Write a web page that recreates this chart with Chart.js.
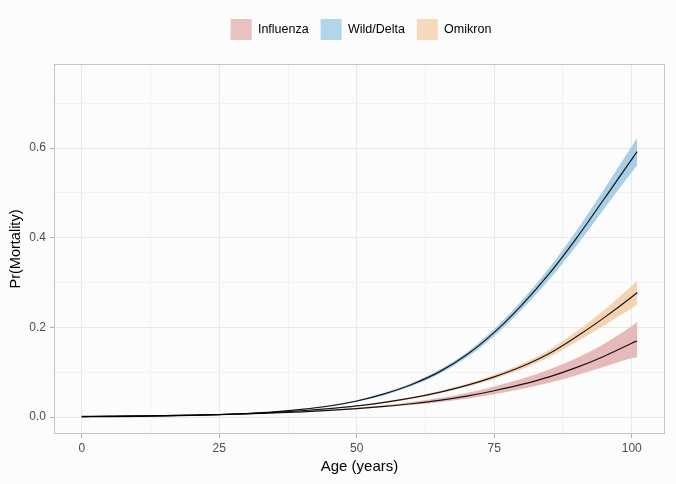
<!DOCTYPE html>
<html>
<head>
<meta charset="utf-8">
<script src="https://cdn.jsdelivr.net/npm/chart.js@4"></script>
<style>
    html, body { margin: 0; padding: 0; background: #fcfcfc; }
    #wrap { width: 676px; height: 484px; }
</style>
</head>
<body>
<div id="wrap"><canvas id="chart" width="676" height="484"></canvas></div>
<script>
    'use strict';

    // Age grid (years)
    var ages = [0, 5, 10, 15, 20, 25, 30, 35, 40, 45, 50, 55, 60, 65, 70, 75, 80, 85, 90, 95, 100, 101];

    // Influenza: estimate and band
    var inflMid = [0.0017, 0.0022, 0.0028, 0.0035, 0.0045, 0.0057, 0.0073, 0.0093, 0.0118, 0.015, 0.019, 0.024, 0.030, 0.0375, 0.047, 0.059, 0.073, 0.090, 0.111, 0.136, 0.165, 0.170];
    var inflLo  = [0.0016, 0.002, 0.0026, 0.0032, 0.0042, 0.0053, 0.0068, 0.0086, 0.0109, 0.0139, 0.0175, 0.0219, 0.027, 0.0334, 0.0413, 0.0512, 0.0628, 0.0765, 0.0935, 0.1125, 0.1315, 0.1335];
    var inflHi  = [0.0018, 0.0024, 0.003, 0.0038, 0.0048, 0.0061, 0.0079, 0.0101, 0.0128, 0.0163, 0.0208, 0.0265, 0.0336, 0.0425, 0.0538, 0.0685, 0.0855, 0.1065, 0.132, 0.164, 0.2035, 0.2125];

    // Wild/Delta
    var wildMid = [0.0008, 0.0012, 0.0018, 0.0026, 0.0038, 0.0056, 0.0082, 0.012, 0.0175, 0.025, 0.036, 0.052, 0.073, 0.101, 0.139, 0.189, 0.250, 0.320, 0.400, 0.487, 0.575, 0.592];
    var wildLo  = [0.0007, 0.0011, 0.0016, 0.0023, 0.0034, 0.0051, 0.0075, 0.0111, 0.0163, 0.0235, 0.0341, 0.0495, 0.0696, 0.0964, 0.133, 0.1812, 0.240, 0.307, 0.383, 0.465, 0.546, 0.561];
    var wildHi  = [0.0009, 0.0013, 0.002, 0.0029, 0.0042, 0.0061, 0.0089, 0.0129, 0.0187, 0.0265, 0.0379, 0.0545, 0.0764, 0.1056, 0.145, 0.1968, 0.260, 0.333, 0.417, 0.509, 0.604, 0.623];

    // Omikron
    var omiMid = [0.0014, 0.0019, 0.0025, 0.0034, 0.0045, 0.006, 0.008, 0.0107, 0.0143, 0.019, 0.025, 0.033, 0.043, 0.0555, 0.071, 0.090, 0.113, 0.142, 0.180, 0.222, 0.268, 0.278];
    var omiLo  = [0.0013, 0.0018, 0.0023, 0.0032, 0.0042, 0.0056, 0.0075, 0.0101, 0.0135, 0.018, 0.0237, 0.0313, 0.0408, 0.0527, 0.0674, 0.0853, 0.107, 0.1335, 0.168, 0.205, 0.243, 0.251];
    var omiHi  = [0.0015, 0.002, 0.0027, 0.0036, 0.0048, 0.0064, 0.0085, 0.0113, 0.0151, 0.02, 0.0263, 0.0347, 0.0452, 0.0583, 0.0746, 0.0947, 0.119, 0.1505, 0.192, 0.239, 0.293, 0.305];

    var seriesNames = ['Influenza', 'Wild/Delta', 'Omikron'];
    var bandColors = ['#e6bab8', '#a9cfe6', '#f5d3b2'];
    var keyColors = ['#e9c1c0', '#b3d5ea', '#f6d8bb'];

    var xTicks = [0, 12.5, 25, 37.5, 50, 62.5, 75, 87.5, 100];
    var yTicks = [0, 0.1, 0.2, 0.3, 0.4, 0.5, 0.6, 0.7];

    function pts(vals) {
        return ages.map(function (a, i) { return { x: a, y: vals[i] }; });
    }

    function lineSet(vals) {
        return {
            data: pts(vals),
            borderColor: 'rgba(0,0,0,0.9)',
            borderWidth: 1.2,
            pointRadius: 0,
            fill: false,
            cubicInterpolationMode: 'monotone'
        };
    }

    function bandSet(vals, color, fill) {
        return {
            data: pts(vals),
            borderWidth: 0,
            borderColor: 'transparent',
            backgroundColor: color,
            pointRadius: 0,
            fill: fill,
            cubicInterpolationMode: 'monotone'
        };
    }

    var isMajorX = function (v) { return v % 25 === 0; };
    var isMajorY = function (v) { return Math.round(v * 10) % 2 === 0; };

    // room under the legend, and legend centred over the panel like the original
    var legendSpace = {
        id: 'legendSpace',
        beforeLayout: function (chart) {
            var lg = chart.legend;
            if (lg && !lg._spaced) {
                var fit = lg.fit, draw = lg.draw;
                lg.fit = function () { fit.call(this); this.height = 57; };
                lg.draw = function () {
                    var c = this.ctx;
                    c.save();
                    c.translate(25, 0);
                    draw.call(this);
                    c.restore();
                };
                lg._spaced = true;
            }
        }
    };

    var panelBox = {
        id: 'panelBox',
        afterDatasetsDraw: function (chart) {
            var a = chart.chartArea, c = chart.ctx;
            c.save();
            c.strokeStyle = '#c4c4c4';
            c.lineWidth = 1;
            c.strokeRect(Math.round(a.left) + 0.5, Math.round(a.top) + 0.5,
                Math.round(a.right - a.left) - 1, Math.round(a.bottom - a.top) - 1);
            c.restore();
        }
    };

    new Chart(document.getElementById('chart'), { //eslint-disable-line
        type: 'line',
        data: {
            datasets: [
                lineSet(wildMid),
                lineSet(omiMid),
                lineSet(inflMid),
                bandSet(wildHi, bandColors[1], '+1'),
                bandSet(wildLo, bandColors[1], false),
                bandSet(omiHi, bandColors[2], '+1'),
                bandSet(omiLo, bandColors[2], false),
                bandSet(inflHi, bandColors[0], '+1'),
                bandSet(inflLo, bandColors[0], false)
            ]
        },
        options: {
            responsive: false,
            animation: false,
            devicePixelRatio: 1,
            layout: { padding: { top: 7, right: 11, left: 7, bottom: 8 } },
            plugins: {
                tooltip: { enabled: false },
                legend: {
                    position: 'top',
                    onClick: null,
                    labels: {
                        boxWidth: 21,
                        boxHeight: 21,
                        padding: 12,
                        color: '#111111',
                        font: { family: 'Liberation Sans', size: 12.5 },
                        generateLabels: function () {
                            return seriesNames.map(function (n, i) {
                                return { text: n, fillStyle: keyColors[i], strokeStyle: keyColors[i], lineWidth: 0, datasetIndex: i };
                            });
                        }
                    }
                }
            },
            scales: {
                x: {
                    type: 'linear',
                    min: -5.05,
                    max: 106.05,
                    afterBuildTicks: function (s) { s.ticks = xTicks.map(function (v) { return { value: v }; }); },
                    afterFit: function (s) { s.height = 42; },
                    border: { display: false },
                    grid: {
                        color: function (ctx) { return isMajorX(ctx.tick.value) ? '#e8e8e8' : '#f2f2f2'; },
                        tickColor: function (ctx) { return isMajorX(ctx.tick.value) ? '#b0b0b0' : 'rgba(0,0,0,0)'; },
                        tickLength: 4
                    },
                    ticks: {
                        autoSkip: false,
                        maxRotation: 0,
                        padding: 3,
                        color: '#4d4d4d',
                        font: { family: 'Liberation Sans', size: 12 },
                        callback: function (v) { return isMajorX(v) ? String(v) : ''; }
                    },
                    title: {
                        display: true,
                        text: 'Age (years)',
                        color: '#000000',
                        font: { family: 'Liberation Sans', size: 15 },
                        padding: { top: 2, bottom: 0 }
                    }
                },
                y: {
                    type: 'linear',
                    min: -0.0375,
                    max: 0.7875,
                    afterBuildTicks: function (s) { s.ticks = yTicks.map(function (v) { return { value: v }; }); },
                    afterFit: function (s) { s.width = 47; },
                    border: { display: false },
                    grid: {
                        color: function (ctx) { return isMajorY(ctx.tick.value) ? '#e8e8e8' : '#f2f2f2'; },
                        tickColor: function (ctx) { return isMajorY(ctx.tick.value) ? '#b0b0b0' : 'rgba(0,0,0,0)'; },
                        tickLength: 4
                    },
                    ticks: {
                        autoSkip: false,
                        padding: 4,
                        color: '#4d4d4d',
                        font: { family: 'Liberation Sans', size: 12 },
                        callback: function (v) { return isMajorY(v) ? v.toFixed(1) : ''; }
                    },
                    title: {
                        display: true,
                        text: 'Pr(Mortality)',
                        color: '#000000',
                        font: { family: 'Liberation Sans', size: 14.5 },
                        padding: { top: 0, bottom: 2 }
                    }
                }
            }
        },
        plugins: [legendSpace, panelBox]
    });
</script>
</body>
</html>
